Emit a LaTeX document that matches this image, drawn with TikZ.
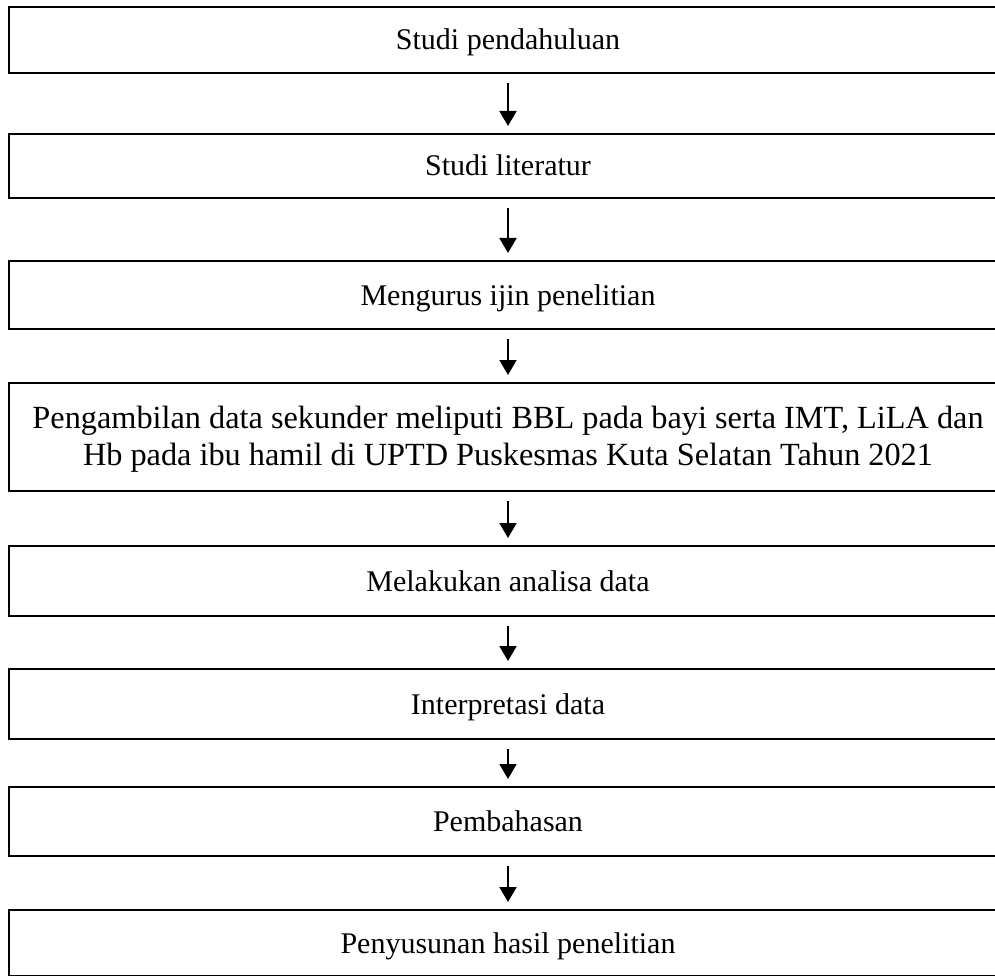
\documentclass[tikz,border=0pt]{standalone}
\usepackage{fontspec}
\setmainfont{Liberation Serif}
\usetikzlibrary{arrows.meta}
\begin{document}
\begin{tikzpicture}[x=1pt,y=-1pt,
  stepbox/.style={draw=black,line width=2.8pt,inner sep=0pt,outer sep=0pt,
    minimum width=998pt,align=center,text height=26pt,text depth=6pt,
    font=\fontsize{30}{36}\selectfont},
  arr/.style={line width=2pt,-{Triangle[width=17pt,length=15pt]}}]
\useasboundingbox (0,0) rectangle (995,976);
\clip (0,0) rectangle (995,976);
\node[stepbox,minimum height=66pt] (b1) at (508,40) {Studi pendahuluan};
\node[stepbox,minimum height=64pt] (b2) at (508,166) {Studi literatur};
\node[stepbox,minimum height=68pt] (b3) at (508,295) {Mengurus ijin penelitian};
\node[stepbox,minimum height=108pt,text height=63pt,font=\fontsize{32.3}{37}\selectfont] (b4) at (508,437) {Pengambilan data sekunder meliputi BBL pada bayi serta IMT, LiLA dan\\Hb pada ibu hamil di UPTD Puskesmas Kuta Selatan Tahun 2021};
\node[stepbox,minimum height=70pt] (b5) at (508,581) {Melakukan analisa data};
\node[stepbox,minimum height=70pt] (b6) at (508,704) {Interpretasi data};
\node[stepbox,minimum height=69pt] (b7) at (508,821.5) {Pembahasan};
\node[stepbox,minimum height=66pt] (b8) at (508,943) {Penyusunan hasil penelitian};
\foreach \a/\b in {b1/b2,b2/b3,b3/b4,b4/b5,b5/b6,b6/b7,b7/b8}
  \draw[arr] ([yshift=-10pt]\a.south) -- ([yshift=8pt]\b.north);
\end{tikzpicture}
\end{document}
